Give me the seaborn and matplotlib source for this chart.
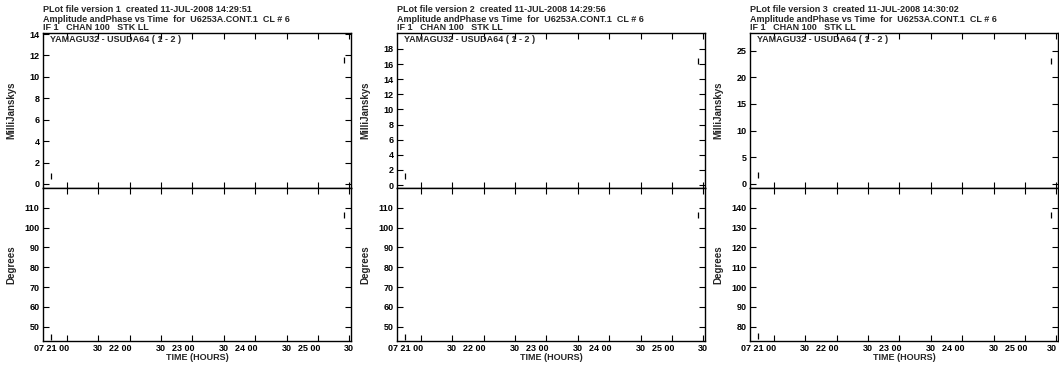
import matplotlib
matplotlib.use('Agg')
import matplotlib.pyplot as plt
import matplotlib.transforms as mtransforms
import seaborn as sns
import pandas as pd

# datos (tiempo en horas del dia 07)
versions = [1, 2, 3]
created = ['14:29:51', '14:29:56', '14:30:02']
times = [20.74, 25.42]
amp_values = [[0.75, 11.6], [1.2, 16.4], [1.7, 23.1]]
phase_values = [[44.8, 106.3], [45.0, 106.5], [75.5, 136.5]]
amp_ticks = [list(range(0, 15, 2)), list(range(0, 19, 2)), list(range(0, 26, 5))]
phase_ticks = [list(range(50, 111, 10)), list(range(50, 111, 10)), list(range(80, 141, 10))]
amp_lims = [(-0.33, 14.1), (-0.33, 20.1), (-0.66, 28.3)]
phase_lims = [(42.8, 120.2), (42.8, 120.2), (72.8, 150.2)]
time_ticks = [21.0, 21.5, 22.0, 22.5, 23.0, 23.5, 24.0, 24.5, 25.0, 25.5]
time_labels = ['07 21 00', '30', '22 00', '30', '23 00', '30', '24 00', '30', '25 00', '30']
time_lim = (20.618, 25.527)

sns.set_style('ticks')
plt.rcParams['font.family'] = ['Liberation Sans', 'DejaVu Sans']
plt.rcParams['font.weight'] = 'bold'

W, H = 1059, 365
fig = plt.figure(figsize=(W / 100, H / 100), dpi=100)

lefts = [43, 397, 750]
pw = 308
y_top, y_mid, y_bot = 33, 187.5, 341


def style_axis(ax):
    for s in ax.spines.values():
        s.set_linewidth(1.0)
        s.set_color('black')
    ax.tick_params(direction='in', length=4.3, width=0.8, top=True, right=True,
                   labelsize=6.5, pad=2.5, colors='black')
    ax.set_xlim(*time_lim)
    ax.set_xticks(time_ticks)


for i in range(3):
    x0 = lefts[i] / W
    ax_a = fig.add_axes([x0, (H - y_mid) / H, pw / W, (y_mid - y_top) / H])
    ax_p = fig.add_axes([x0, (H - y_bot) / H, pw / W, (y_bot - y_mid) / H])

    df_a = pd.DataFrame({'t': times, 'v': amp_values[i]})
    df_p = pd.DataFrame({'t': times, 'v': phase_values[i]})
    sns.scatterplot(data=df_a, x='t', y='v', ax=ax_a, marker='|', s=22,
                    color='black', linewidth=0.9)
    sns.scatterplot(data=df_p, x='t', y='v', ax=ax_p, marker='|', s=22,
                    color='black', linewidth=0.9)

    for ax in (ax_a, ax_p):
        style_axis(ax)

    ax_a.set_ylim(*amp_lims[i])
    ax_a.set_yticks(amp_ticks[i])
    ax_a.set_xticklabels([])
    ax_p.set_ylim(*phase_lims[i])
    ax_p.set_yticks(phase_ticks[i])

    ax_p.set_xticklabels(time_labels)
    labs = ax_p.get_xticklabels()
    for j, (lab, txt) in enumerate(zip(labs, time_labels)):
        if txt != '30':
            lab.set_horizontalalignment('right')
            lab.set_transform(lab.get_transform() +
                              mtransforms.ScaledTranslation(2 / 100, 0, fig.dpi_scale_trans))
        elif i == 2 and j == len(labs) - 1:
            lab.set_horizontalalignment('right')
            lab.set_transform(lab.get_transform() +
                              mtransforms.ScaledTranslation(1 / 100, 0, fig.dpi_scale_trans))

    ax_a.set_xlabel('')
    ax_a.set_ylabel('MilliJanskys', fontsize=7, fontweight='bold')
    ax_a.yaxis.set_label_coords(-0.088, 0.5)
    ax_p.set_ylabel('Degrees', fontsize=7, fontweight='bold')
    ax_p.yaxis.set_label_coords(-0.088, 0.5)
    ax_p.set_xlabel('TIME (HOURS)', fontsize=6.5, fontweight='bold', labelpad=0)

    ax_a.text(7 / pw, 1 - 7 / (y_mid - y_top), 'YAMAGU32 - USUDA64 ( 1 - 2 )',
              transform=ax_a.transAxes, fontsize=6.5, fontweight='bold',
              va='center', ha='left')

    fig.text(x0, 1 - 10 / H, f'PLot file version {versions[i]}  created 11-JUL-2008 {created[i]}',
             fontsize=6.5, fontweight='bold', va='center', ha='left')
    fig.text(x0, 1 - 19 / H, 'Amplitude andPhase vs Time  for  U6253A.CONT.1  CL # 6',
             fontsize=6.5, fontweight='bold', va='center', ha='left')
    fig.text(x0, 1 - 28 / H, 'IF 1   CHAN 100   STK LL',
             fontsize=6.5, fontweight='bold', va='center', ha='left')

fig.savefig('out.png', dpi=100)
